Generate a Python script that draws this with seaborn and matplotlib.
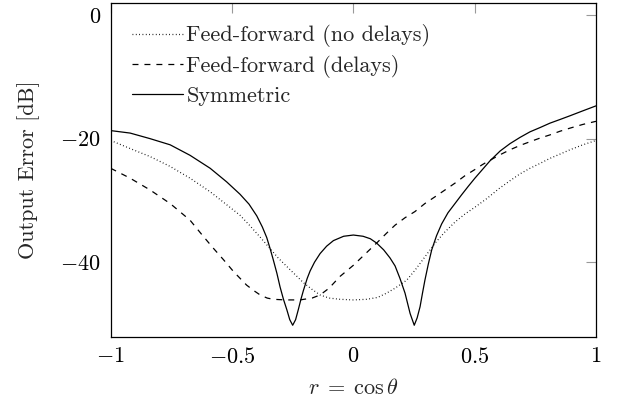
import numpy as np
import pandas as pd
import matplotlib
matplotlib.use("Agg")
import matplotlib.pyplot as plt
import seaborn as sns

# ---- data ----
x_nodelay = [-1.0, -0.92, -0.838, -0.755, -0.673, -0.59, -0.522, -0.467, -0.426, -0.385,
             -0.343, -0.31, -0.274, -0.24, -0.206, -0.17, -0.137, -0.1, -0.055, 0.0,
             0.055, 0.1, 0.137, 0.172, 0.22, 0.254, 0.29, 0.337, 0.375, 0.419,
             0.46, 0.501, 0.55, 0.6, 0.646, 0.687, 0.728, 0.77, 0.81, 0.852,
             0.893, 0.946, 1.0]
y_nodelay = [-20.3, -21.6, -22.9, -24.5, -26.4, -28.6, -30.7, -32.4, -34.1, -35.9,
             -37.8, -39.3, -40.7, -42.0, -43.3, -44.4, -45.3, -45.8, -46.0, -46.1,
             -46.0, -45.7, -45.0, -44.2, -42.9, -41.3, -39.4, -36.9, -35.2, -33.5,
             -32.2, -31.1, -29.7, -28.1, -26.8, -25.7, -24.8, -24.0, -23.2, -22.5,
             -21.8, -21.0, -20.3]

x_delay = [-1.0, -0.92, -0.838, -0.755, -0.673, -0.625, -0.58, -0.535, -0.494, -0.467,
           -0.44, -0.41, -0.384, -0.355, -0.33, -0.28, -0.22, -0.17, -0.137, -0.1,
           -0.055, 0.0, 0.048, 0.096, 0.137, 0.172, 0.213, 0.254, 0.295, 0.337,
           0.378, 0.419, 0.46, 0.501, 0.532, 0.563, 0.605, 0.646, 0.687, 0.728,
           0.77, 0.81, 0.852, 0.893, 0.946, 1.0]
y_delay = [-24.8, -26.4, -28.3, -30.5, -33.2, -35.5, -37.6, -39.6, -41.5, -42.6,
           -43.7, -44.6, -45.3, -45.8, -46.0, -46.1, -46.1, -45.8, -45.3, -44.2,
           -42.3, -40.5, -38.7, -36.9, -35.3, -34.0, -32.8, -31.8, -30.5, -29.4,
           -28.3, -27.2, -26.0, -25.0, -24.2, -23.5, -22.6, -21.8, -21.1, -20.5,
           -19.9, -19.4, -18.8, -18.3, -17.7, -17.2]

x_sym = [-1.0, -0.92, -0.838, -0.755, -0.673, -0.59, -0.522, -0.467, -0.43, -0.398,
         -0.375, -0.357, -0.343, -0.33, -0.315, -0.302, -0.288, -0.274, -0.262, -0.25,
         -0.238, -0.227, -0.216, -0.206, -0.19, -0.178, -0.16, -0.137, -0.11, -0.082,
         -0.04, 0.0, 0.04, 0.07, 0.096, 0.125, 0.151, 0.172, 0.192, 0.213,
         0.234, 0.251, 0.263, 0.275, 0.285, 0.295, 0.309, 0.323, 0.343, 0.364,
         0.39, 0.419, 0.446, 0.474, 0.501, 0.532, 0.563, 0.605, 0.646, 0.687,
         0.728, 0.77, 0.81, 0.852, 0.893, 0.946, 1.0]
y_sym = [-18.7, -19.1, -20.0, -21.0, -22.7, -24.8, -27.0, -29.0, -30.6, -32.5,
         -34.3, -36.0, -37.8, -39.6, -41.8, -44.0, -46.0, -47.7, -49.3, -50.2,
         -49.3, -47.7, -46.0, -44.6, -42.6, -41.4, -40.0, -38.6, -37.4, -36.5,
         -35.8, -35.6, -35.8, -36.2, -36.9, -38.0, -39.3, -40.6, -42.6, -45.0,
         -48.3, -50.2, -49.0, -47.2, -45.0, -42.9, -40.3, -38.0, -35.7, -33.8,
         -32.0, -30.5, -29.1, -27.7, -26.4, -25.0, -23.6, -22.0, -20.8, -19.8,
         -18.9, -18.2, -17.5, -16.9, -16.3, -15.5, -14.7]

labels = ["Feed-forward (no delays)", "Feed-forward (delays)", "Symmetric"]
x_ticks = [-1, -0.5, 0, 0.5, 1]
x_ticklabels = ["$-1$", "$-0.5$", "$0$", "$0.5$", "$1$"]
y_ticks = [0, -20, -40]
y_ticklabels = ["$0$", "$-20$", "$-40$"]

# ---- style ----
sns.set_theme(style="white")
plt.rcParams["font.family"] = ["cmr10", "DejaVu Serif"]
plt.rcParams["mathtext.fontset"] = "cm"
plt.rcParams["axes.unicode_minus"] = False
plt.rcParams["lines.scale_dashes"] = False

FS = 16
fig = plt.figure(figsize=(6.24, 4.07), dpi=100)
ax = fig.add_axes([0.1774, 0.172, 0.9551 - 0.1774, 0.9919 - 0.172])

df1 = pd.DataFrame({"x": x_nodelay, "y": y_nodelay})
df2 = pd.DataFrame({"x": x_delay, "y": y_delay})
df3 = pd.DataFrame({"x": x_sym, "y": y_sym})

sns.lineplot(data=df1, x="x", y="y", ax=ax, color="black", lw=0.9,
             linestyle=(0, (0.6, 1.8)), label=labels[0], sort=False)
sns.lineplot(data=df2, x="x", y="y", ax=ax, color="black", lw=0.9,
             linestyle=(0, (4.3, 4.3)), label=labels[1], sort=False)
sns.lineplot(data=df3, x="x", y="y", ax=ax, color="black", lw=0.9,
             linestyle="-", label=labels[2], sort=False)

ax.set_xlim(-1, 1)
ax.set_ylim(-52.1, 1.9)
ax.set_xticks(x_ticks)
ax.set_xticklabels(x_ticklabels, fontsize=FS)
ax.set_yticks(y_ticks)
ax.set_yticklabels(y_ticklabels, fontsize=FS)
ax.tick_params(axis="both", direction="in", length=7.5, width=0.8, color="0.6",
               top=True, right=True, pad=7, labelcolor="black")
for s in ax.spines.values():
    s.set_color("black")
    s.set_linewidth(0.9)

ax.set_xlabel(r"$r\;=\;\cos\theta$", fontsize=FS, labelpad=8)
ax.set_ylabel("Output Error [dB]", fontsize=FS, labelpad=15)

leg = ax.legend(loc="upper left", frameon=False, fontsize=FS, handlelength=2.3,
                handletextpad=0.15, labelspacing=0.35, borderaxespad=0.55,
                borderpad=0.4)

fig.savefig("out.png", dpi=100)
